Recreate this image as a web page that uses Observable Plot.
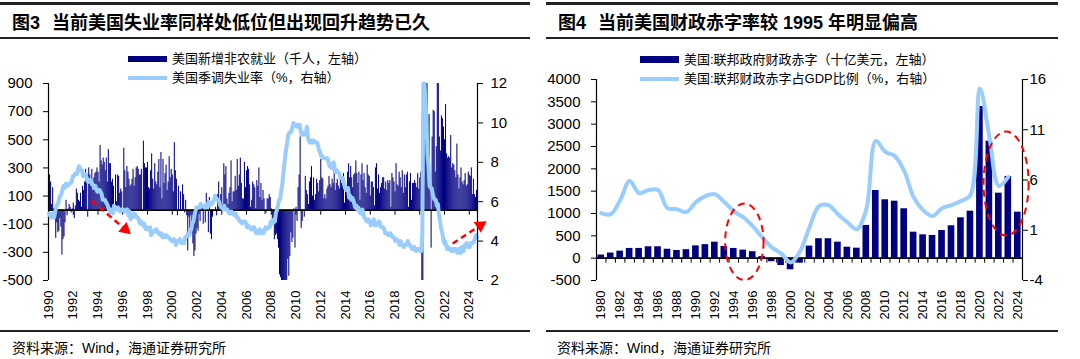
<!DOCTYPE html>
<html><head><meta charset="utf-8">
<script src="https://cdn.jsdelivr.net/npm/d3@7"></script>
<script src="https://cdn.jsdelivr.net/npm/@observablehq/plot@0.6"></script>
<style>
html,body{margin:0;padding:0;background:#fff}
body{position:relative;width:1080px;height:359px;overflow:hidden;font-family:"Liberation Sans","Noto Sans CJK SC",sans-serif;color:#000}
.hr{position:absolute;background:#222}
.title{position:absolute;top:11px;font-size:18px;font-weight:700;line-height:24px;white-space:nowrap}
.leg{position:absolute;font-size:13px;line-height:16px;white-space:nowrap;display:flex;align-items:center}
.sw{display:inline-block;width:39px;margin-right:5px}
.src{position:absolute;top:339px;font-size:14px;line-height:18px;white-space:nowrap}
</style></head><body>
<div class="hr" style="left:0;top:2px;width:530px;height:2.5px"></div>
<div class="hr" style="left:0;top:36.5px;width:530px;height:2px"></div>
<div class="hr" style="left:0;top:330px;width:530px;height:2px"></div>
<div class="title" style="left:12px"><span>图3</span><span style="margin-left:12px">当前美国失业率同样处低位但出现回升趋势已久</span></div>
<div class="leg" style="left:128px;top:51px"><span class="sw" style="height:6px;background:#000080"></span>美国新增非农就业（千人，左轴）</div>
<div class="leg" style="left:128px;top:70px"><span class="sw" style="height:4px;background:#99CCFF"></span>美国季调失业率（%，右轴）</div>
<div class="src" style="left:12px">资料来源：Wind，海通证券研究所</div>

<div class="hr" style="left:546px;top:2px;width:512px;height:2.5px"></div>
<div class="hr" style="left:546px;top:36.5px;width:512px;height:2px"></div>
<div class="hr" style="left:546px;top:330px;width:512px;height:2px"></div>
<div class="title" style="left:558px"><span>图4</span><span style="margin-left:12px">当前美国财政赤字率较 1995 年明显偏高</span></div>
<div class="leg" style="left:640px;top:51.5px"><span class="sw" style="height:7px;background:#000080"></span>美国:联邦政府财政赤字（十亿美元，左轴）</div>
<div class="leg" style="left:640px;top:71px"><span class="sw" style="height:4px;background:#99CCFF"></span>美国:联邦财政赤字占GDP比例（%，右轴）</div>
<div class="src" style="left:557px">资料来源：Wind，海通证券研究所</div>

<script>
// ---------------- Data: left panel (monthly, Jan 1990 – Aug 2024) ----------------
const startYear = 1990;
// US nonfarm payroll change, thousands
const payrolls = [
  320, 250, 200, 40, 160, 10, -40, -200, -90, -160, -150, -60,      // 1990
  -120, -320, -210, -190, -90, 70, -40, 10, 40, 20, -20, 10,        // 1991
  50, -60, 30, 150, 120, 70, 60, 120, 20, 170, 140, 200,            // 1992
  290, 260, -50, 300, 250, 170, 290, 140, 230, 260, 270, 300,       // 1993
  270, 200, 460, 350, 320, 370, 340, 280, 370, 200, 430, 330,       // 1994
  330, 200, 220, 170, -10, 250, 60, 250, 240, 120, 150, 130,        // 1995
  -20, 440, 280, 160, 310, 270, 220, 170, 180, 220, 290, 170,       // 1996
  230, 300, 310, 290, 250, 250, 290, -10, 490, 330, 300, 300,       // 1997
  340, 160, 150, 280, 400, 220, 150, 330, 200, 180, 270, 360,       // 1998
  160, 410, 80, 360, 190, 260, 320, 140, 200, 380, 230, 290,        // 1999
  250, 130, 480, 280, 220, -40, 170, -10, 130, 0, 180, 110,         // 2000
  -20, 70, -40, -290, -50, -130, -40, -160, -240, -330, -290, -170, // 2001
  -130, -150, -30, -80, -10, 40, -100, 0, -90, 120, 10, -160,       // 2002
  90, -170, -210, -50, -10, 0, 20, -40, 110, 200, 10, 110,          // 2003
  160, 40, 330, 250, 310, 80, 40, 120, 160, 350, 60, 130,           // 2004
  130, 240, 140, 360, 170, 250, 370, 190, 80, 80, 340, 160,         // 2005
  280, 310, 290, 180, 20, 70, 200, 180, 160, 10, 210, 170,          // 2006
  300, 90, 190, 70, 140, 80, -30, -20, 80, 80, 110, 90,             // 2007
  10, -80, -80, -210, -180, -170, -210, -270, -460, -480, -730, -700, // 2008
  -790, -700, -800, -700, -350, -470, -330, -160, -230, -200, 10, -270, // 2009
  20, -80, 160, 250, 520, -130, -80, -10, -50, 240, 140, 110,       // 2010
  40, 200, 230, 310, 100, 230, 70, 110, 220, 190, 130, 210,         // 2011
  360, 230, 220, 80, 110, 80, 150, 170, 240, 180, 160, 220,         // 2012
  190, 310, 140, 190, 220, 170, 150, 260, 190, 210, 260, 50,        // 2013
  190, 170, 270, 330, 230, 310, 230, 160, 250, 260, 350, 260,       // 2014
  190, 270, 70, 250, 330, 210, 260, 160, 120, 320, 250, 240,        // 2015
  100, 200, 200, 160, 30, 300, 330, 150, 250, 120, 160, 190,        // 2016
  230, 230, 150, 200, 140, 210, 190, 210, 20, 260, 230, 200,        // 2017
  130, 330, 180, 170, 270, 230, 160, 280, 120, 250, 160, 250,       // 2018
  270, 20, 200, 260, 70, 190, 190, 210, 190, 160, 260, 150,         // 2019
  230, 270, -1400, -20500, 2700, 4800, 1700, 1500, 660, 680, 260, -270, // 2020
  520, 710, 700, 270, 450, 960, 1090, 520, 420, 670, 650, 590,      // 2021
  500, 750, 400, 370, 380, 370, 530, 300, 330, 320, 280, 230,       // 2022
  470, 250, 150, 230, 300, 200, 180, 210, 260, 170, 180, 270,       // 2023
  250, 240, 300, 110, 220, 110, 90, 140                             // 2024
];
// US unemployment rate, seasonally adjusted, %
const unemployment = [
  5.4,5.3,5.2,5.4,5.4,5.2,5.5,5.7,5.9,5.9,6.2,6.3,
  6.4,6.6,6.8,6.7,6.9,6.9,6.8,6.9,6.9,7.0,7.0,7.3,
  7.3,7.4,7.4,7.4,7.6,7.8,7.7,7.6,7.6,7.3,7.4,7.4,
  7.3,7.1,7.0,7.1,7.1,7.0,6.9,6.8,6.7,6.8,6.6,6.5,
  6.6,6.6,6.5,6.4,6.1,6.1,6.1,6.0,5.9,5.8,5.6,5.5,
  5.6,5.4,5.4,5.8,5.6,5.6,5.7,5.7,5.6,5.5,5.6,5.6,
  5.6,5.5,5.5,5.6,5.6,5.3,5.5,5.1,5.2,5.2,5.4,5.4,
  5.3,5.2,5.2,5.1,4.9,5.0,4.9,4.8,4.9,4.7,4.6,4.7,
  4.6,4.6,4.7,4.3,4.4,4.5,4.5,4.5,4.6,4.5,4.4,4.4,
  4.3,4.4,4.2,4.3,4.2,4.3,4.3,4.2,4.2,4.1,4.1,4.0,
  4.0,4.1,4.0,3.8,4.0,4.0,4.0,4.1,3.9,3.9,3.9,3.9,
  4.2,4.2,4.3,4.4,4.3,4.5,4.6,4.9,5.0,5.3,5.5,5.7,
  5.7,5.7,5.7,5.9,5.8,5.8,5.8,5.7,5.7,5.7,5.9,6.0,
  5.8,5.9,5.9,6.0,6.1,6.3,6.2,6.1,6.1,6.0,5.8,5.7,
  5.7,5.6,5.8,5.6,5.6,5.6,5.5,5.4,5.4,5.5,5.4,5.4,
  5.3,5.4,5.2,5.2,5.1,5.0,5.0,4.9,5.0,5.0,5.0,4.9,
  4.7,4.8,4.7,4.7,4.6,4.6,4.7,4.7,4.5,4.4,4.5,4.4,
  4.6,4.5,4.4,4.5,4.4,4.6,4.7,4.6,4.7,4.7,4.7,5.0,
  5.0,4.9,5.1,5.0,5.4,5.6,5.8,6.1,6.1,6.5,6.8,7.3,
  7.8,8.3,8.7,9.0,9.4,9.5,9.5,9.6,9.8,10.0,9.9,9.9,
  9.8,9.8,9.9,9.9,9.6,9.4,9.4,9.5,9.5,9.4,9.8,9.3,
  9.1,9.0,9.0,9.1,9.0,9.1,9.0,9.0,9.0,8.8,8.6,8.5,
  8.3,8.3,8.2,8.2,8.2,8.2,8.2,8.0,7.8,7.8,7.7,7.9,
  8.0,7.7,7.5,7.6,7.5,7.5,7.3,7.2,7.2,7.2,6.9,6.7,
  6.6,6.7,6.7,6.2,6.3,6.1,6.2,6.1,5.9,5.7,5.8,5.6,
  5.7,5.5,5.4,5.4,5.6,5.3,5.2,5.1,5.0,5.0,5.1,5.0,
  4.8,4.9,5.0,5.1,4.8,4.9,4.8,4.9,5.0,4.9,4.7,4.7,
  4.7,4.6,4.4,4.4,4.4,4.3,4.3,4.4,4.3,4.2,4.2,4.1,
  4.0,4.1,4.0,4.0,3.8,4.0,3.8,3.8,3.7,3.8,3.8,3.9,
  4.0,3.8,3.8,3.7,3.6,3.6,3.7,3.6,3.5,3.6,3.6,3.6,
  3.5,3.5,4.4,14.8,13.2,11.0,10.2,8.4,7.8,6.8,6.7,6.7,
  6.4,6.2,6.1,6.1,5.8,5.9,5.4,5.1,4.7,4.5,4.2,3.9,
  4.0,3.8,3.6,3.7,3.6,3.6,3.5,3.6,3.5,3.6,3.6,3.5,
  3.4,3.6,3.5,3.4,3.7,3.6,3.5,3.8,3.8,3.9,3.7,3.7,
  3.7,3.9,3.9,3.9,4.0,4.1,4.3,4.2
];
const leftTicksL = [-500, -300, -100, 100, 300, 500, 700, 900];
const rightTicksL = [2, 4, 6, 8, 10, 12];
const xTickYearsL = d3.range(1990, 2025, 2);
// annotation arrows (decimal year, right-axis %)
const arrowsL = [
  {x1: 1993.5, y1: 6.05, x2: 1996.2, y2: 4.6, angle: 131},
  {x1: 2022.66, y1: 3.88, x2: 2024.9, y2: 4.8, angle: 56}
];

// ---------------- Data: right panel (annual, 1980 – 2024) ----------------
const years = d3.range(1980, 2025);
// federal deficit, USD bn (positive = deficit)
const deficit = [70, 115, 157, 218, 218, 255, 255, 200, 172, 190,
  275, 303, 358, 262, 218, 180, 145, 35, -80, -165,
  -260, -112, 270, 435, 435, 358, 246, 224, 732, 1515,
  1307, 1276, 1106, 582, 523, 508, 620, 725, 904, 1052,
  3396, 2619, 1455, 1829, 1030];
// deficit as % of GDP (1980 – 2023)
const ratioYears = d3.range(1980, 2024);
const deficitRatio = [2.7, 2.6, 4.0, 5.9, 4.7, 5.0, 5.0, 3.2, 3.1, 2.8,
  3.8, 4.4, 4.6, 3.8, 2.9, 2.3, 1.4, 0.3, -0.7, -1.3,
  -2.2, -1.1, 1.3, 3.4, 3.5, 2.6, 1.8, 1.1, 3.1, 9.9,
  8.8, 8.4, 6.9, 4.3, 3.0, 2.4, 3.2, 3.5, 3.9, 4.5,
  15.1, 10.3, 5.4, 6.3];
const leftTicksR = [-500, 0, 500, 1000, 1500, 2000, 2500, 3000, 3500, 4000];
const rightTicksR = [-4, 1, 6, 11, 16];
const xTickYearsR = d3.range(1980, 2025, 2);
// dashed ellipses (year, right-axis %, radii in same units)
const ellipsesR = [
  {x: 1995.17, y: -0.2, rx: 2.03, ry: 3.8},
  {x: 2022.82, y: 5.6, rx: 2.38, ry: 5.17}
];

// ---------------- Styles ----------------
const navy = "#000080", sky = "#99CCFF", red = "#FF0000";
const baseStyle = {background: "transparent", fontFamily: "Liberation Sans, Arial, sans-serif", fontSize: "15px", color: "#000", overflow: "visible"};
const fmt = d => String(d);

function place(svg, left, top) {
  svg.style.position = "absolute";
  svg.style.left = left + "px";
  svg.style.top = top + "px";
  document.body.appendChild(svg);
}

// ---------------- Left panel (x in decimal years) ----------------
const payData = payrolls.map((v, i) => ({x1: startYear + i / 12, x2: startYear + (i + 1) / 12, v}));
const unData = unemployment.map((u, i) => ({x: startYear + (i + 0.5) / 12, u}));
const xDomL = [startYear, startYear + payrolls.length / 12];
const dimL = {width: 540, height: 335, marginLeft: 48, marginRight: 63, marginTop: 83, marginBottom: 55};

const baseL = Plot.plot({
  ...dimL, style: baseStyle,
  x: {type: "linear", domain: xDomL},
  y: {domain: [-500, 900], clamp: true},
  marks: [
    Plot.rect(payData, {x1: "x1", x2: "x2", y1: 0, y2: "v", fill: navy}),
    Plot.ruleY([0], {stroke: "#000", strokeWidth: 1.6}),
    Plot.ruleX(xTickYearsL, {y1: 0, y2: -36, stroke: "#000"}),
    Plot.ruleX([xDomL[0]], {stroke: "#000", strokeWidth: 1.2}),
    Plot.axisY({ticks: leftTicksL, tickFormat: fmt, tickSize: 5, tickPadding: 11, fontSize: 15, label: null}),
    Plot.axisX({ticks: xTickYearsL, tickFormat: fmt, tickRotate: -90, tickSize: 0, tickPadding: 10, fontSize: 13, label: null})
  ]
});
place(baseL, 0, 0);

const overL = Plot.plot({
  ...dimL, style: baseStyle,
  x: {type: "linear", domain: xDomL, axis: null},
  y: {domain: [2, 12], clamp: true},
  marks: [
    Plot.line(unData, {x: "x", y: "u", stroke: sky, strokeWidth: 4, strokeLinejoin: "round"}),
    Plot.ruleX([xDomL[1]], {stroke: "#000", strokeWidth: 1.2}),
    Plot.axisY({anchor: "right", ticks: rightTicksL, tickFormat: fmt, tickSize: 5, tickPadding: 8, fontSize: 15, label: null}),
    Plot.link(arrowsL, {x1: "x1", y1: "y1", x2: "x2", y2: "y2", stroke: red, strokeWidth: 2.5, strokeDasharray: "6,4"}),
    Plot.dot(arrowsL, {x: "x2", y: "y2", symbol: "triangle", r: 4.8, fill: red, stroke: "none", rotate: "angle"})
  ]
});
place(overL, 0, 0);

// ---------------- Right panel ----------------
const defData = years.map((year, i) => ({year, v: deficit[i]}));
const ratioData = ratioYears.map((year, i) => ({year, r: deficitRatio[i]}));
const xDomR = [years[0] - 0.5, years[years.length - 1] + 0.5];
const bounds = years.map(y => y + 0.5);
const dimR = {width: 540, height: 335, marginLeft: 56, marginRight: 58, marginTop: 79, marginBottom: 55};

const baseR = Plot.plot({
  ...dimR, style: baseStyle,
  x: {type: "linear", domain: xDomR},
  y: {domain: [-500, 4000]},
  marks: [
    Plot.rect(defData, {x1: d => d.year - 0.35, x2: d => d.year + 0.35, y1: 0, y2: "v", fill: navy}),
    Plot.ruleY([0], {stroke: "#000", strokeWidth: 1.6}),
    Plot.ruleX(bounds, {y1: 0, y2: -112, stroke: "#000"}),
    Plot.ruleX([xDomR[0]], {stroke: "#000", strokeWidth: 1.2}),
    Plot.axisY({ticks: leftTicksR, tickFormat: fmt, tickSize: 5, tickPadding: 11, fontSize: 15, label: null}),
    Plot.axisX({ticks: xTickYearsR, tickFormat: fmt, tickRotate: -90, tickSize: 0, tickPadding: 10, fontSize: 13, label: null})
  ]
});
place(baseR, 540, 0);

const ellipseMark = (ells) => (index, scales) => {
  const g = d3.create("svg:g");
  for (const e of ells) {
    const cx = scales.x(e.x), cy = scales.y(e.y);
    g.append("ellipse")
      .attr("cx", cx).attr("cy", cy)
      .attr("rx", Math.abs(scales.x(e.x + e.rx) - cx))
      .attr("ry", Math.abs(scales.y(e.y + e.ry) - cy))
      .attr("fill", "none").attr("stroke", red)
      .attr("stroke-width", 2).attr("stroke-dasharray", "7,5");
  }
  return g.node();
};

const overR = Plot.plot({
  ...dimR, style: baseStyle,
  x: {type: "linear", domain: xDomR, axis: null},
  y: {domain: [-4, 16]},
  marks: [
    Plot.line(ratioData, {x: "year", y: "r", curve: "catmull-rom", stroke: sky, strokeWidth: 4}),
    Plot.ruleX([xDomR[1]], {stroke: "#000", strokeWidth: 1.2}),
    Plot.axisY({anchor: "right", ticks: rightTicksR, tickFormat: fmt, tickSize: 5, tickPadding: 2, fontSize: 15, label: null}),
    ellipseMark(ellipsesR)
  ]
});
place(overR, 540, 0);
</script>
</body></html>
